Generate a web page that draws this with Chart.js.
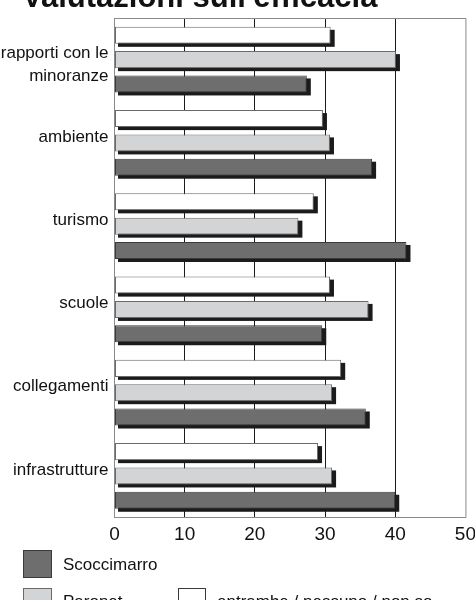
<!DOCTYPE html>
<html><head><meta charset="utf-8">
<script src="https://cdn.jsdelivr.net/npm/chart.js@4.4.0/dist/chart.umd.min.js"></script>
<style>
html,body{margin:0;padding:0;background:#fff;overflow:hidden;width:475px;height:600px;position:relative;}
#wrap{position:absolute;left:0;top:-22px;width:482px;height:580px;}
#title{position:absolute;left:22px;top:-21px;font:bold 31px "Liberation Sans",Arial,sans-serif;line-height:36px;color:#111;white-space:nowrap;}
.sw{position:absolute;box-sizing:border-box;width:29px;height:28px;}
.lt{position:absolute;font:17px "Liberation Sans",Arial,sans-serif;color:#111;line-height:20px;white-space:nowrap;}
</style></head><body>
<div id="wrap"><canvas id="c"></canvas></div>
<div id="title"></div>
<div class="sw" style="left:23px;top:550px;background:#6e6e6e;border:1px solid #3a3a3a;"></div>
<div class="lt" id="l0" style="left:63px;top:555px;"></div>
<div class="sw" style="left:23px;top:588px;background:#d3d4d6;border:1px solid #6a6a6a;"></div>
<div class="lt" id="l1" style="left:63px;top:592px;"></div>
<div class="sw" style="left:178px;top:588px;width:28px;background:#fff;border:1px solid #3a3a3a;"></div>
<div class="lt" id="l2" style="left:217px;top:592px;"></div>
<script>
const titleText = "Valutazioni sull'efficacia";
const categories = [["", "rapporti con le", "minoranze"], "ambiente", "turismo", "scuole", "collegamenti", "infrastrutture"];
const seriesNames = ["entrambe / nessuno / non so", "Paronet", "Scoccimarro"];
const entrambe    = [30.8, 29.7, 28.4, 30.7, 32.3, 29.0];
const paronet     = [40.1, 30.7, 26.2, 36.2, 31.0, 31.0];
const scoccimarro = [27.4, 36.7, 41.6, 29.6, 35.8, 40.0];
const xMin = 0, xMax = 50, xStep = 10;

document.getElementById('title').textContent = titleText;
document.getElementById('l0').textContent = seriesNames[2];
document.getElementById('l1').textContent = seriesNames[1];
document.getElementById('l2').textContent = seriesNames[0];

const shadowPlugin = {
  id: 'shadowFrame',
  beforeDatasetsDraw(chart) {
    const ctx = chart.ctx, a = chart.chartArea;
    ctx.save();
    ctx.strokeStyle = '#8a8a8a';
    ctx.lineWidth = 1;
    ctx.beginPath();
    ctx.moveTo(a.left, a.top + 0.5); ctx.lineTo(a.right + 0.5, a.top + 0.5);
    ctx.lineTo(a.right + 0.5, a.bottom);
    ctx.stroke();
    ctx.fillStyle = '#1b1b1b';
    chart.data.datasets.forEach((ds, i) => {
      const meta = chart.getDatasetMeta(i);
      meta.data.forEach(el => {
        const p = el.getProps(['x', 'y', 'base', 'height'], true);
        const top = p.y - p.height / 2;
        ctx.fillRect(p.base + 3, top + 3, (p.x - p.base) + 1, p.height);
      });
    });
    ctx.restore();
  }
};

const font = '"Liberation Sans", Arial, sans-serif';
new Chart(document.getElementById('c'), {
  type: 'bar',
  data: {
    labels: categories,
    datasets: [
      { label: seriesNames[0], data: entrambe, backgroundColor: '#ffffff', borderColor: '#6a6a6a' },
      { label: seriesNames[1], data: paronet, backgroundColor: '#d3d4d6', borderColor: '#6a6a6a' },
      { label: seriesNames[2], data: scoccimarro, backgroundColor: '#6e6e6e', borderColor: '#3a3a3a' }
    ]
  },
  options: {
    indexAxis: 'y',
    responsive: true,
    maintainAspectRatio: false,
    animation: false,
    devicePixelRatio: 1,
    datasets: { bar: { borderWidth: 1, borderSkipped: false, categoryPercentage: 0.876, barPercentage: 0.70 } },
    layout: { padding: { top: 40, left: 0, right: 0, bottom: 0 } },
    plugins: {
      legend: { display: false },
      tooltip: { enabled: false },
      title: { display: false }
    },
    scales: {
      x: {
        min: xMin, max: xMax,
        ticks: { stepSize: xStep, color: '#111', font: { family: font, size: 19 }, padding: 6 },
        grid: {
          drawTicks: false, lineWidth: 1,
          color: ctx => (ctx.tick && (ctx.tick.value === xMin || ctx.tick.value === xMax)) ? 'rgba(0,0,0,0)' : '#1a1a1a'
        },
        border: { color: '#8a8a8a', width: 1 }
      },
      y: {
        grid: { display: false, drawTicks: false },
        border: { color: '#8a8a8a', width: 1 },
        ticks: { color: '#111', font: { family: font, size: 17, lineHeight: 1.35 }, padding: 6, labelOffset: -6 },
        afterFit(scale) { scale.width = 114.5; }
      }
    }
  },
  plugins: [shadowPlugin]
});
</script>
</body></html>
